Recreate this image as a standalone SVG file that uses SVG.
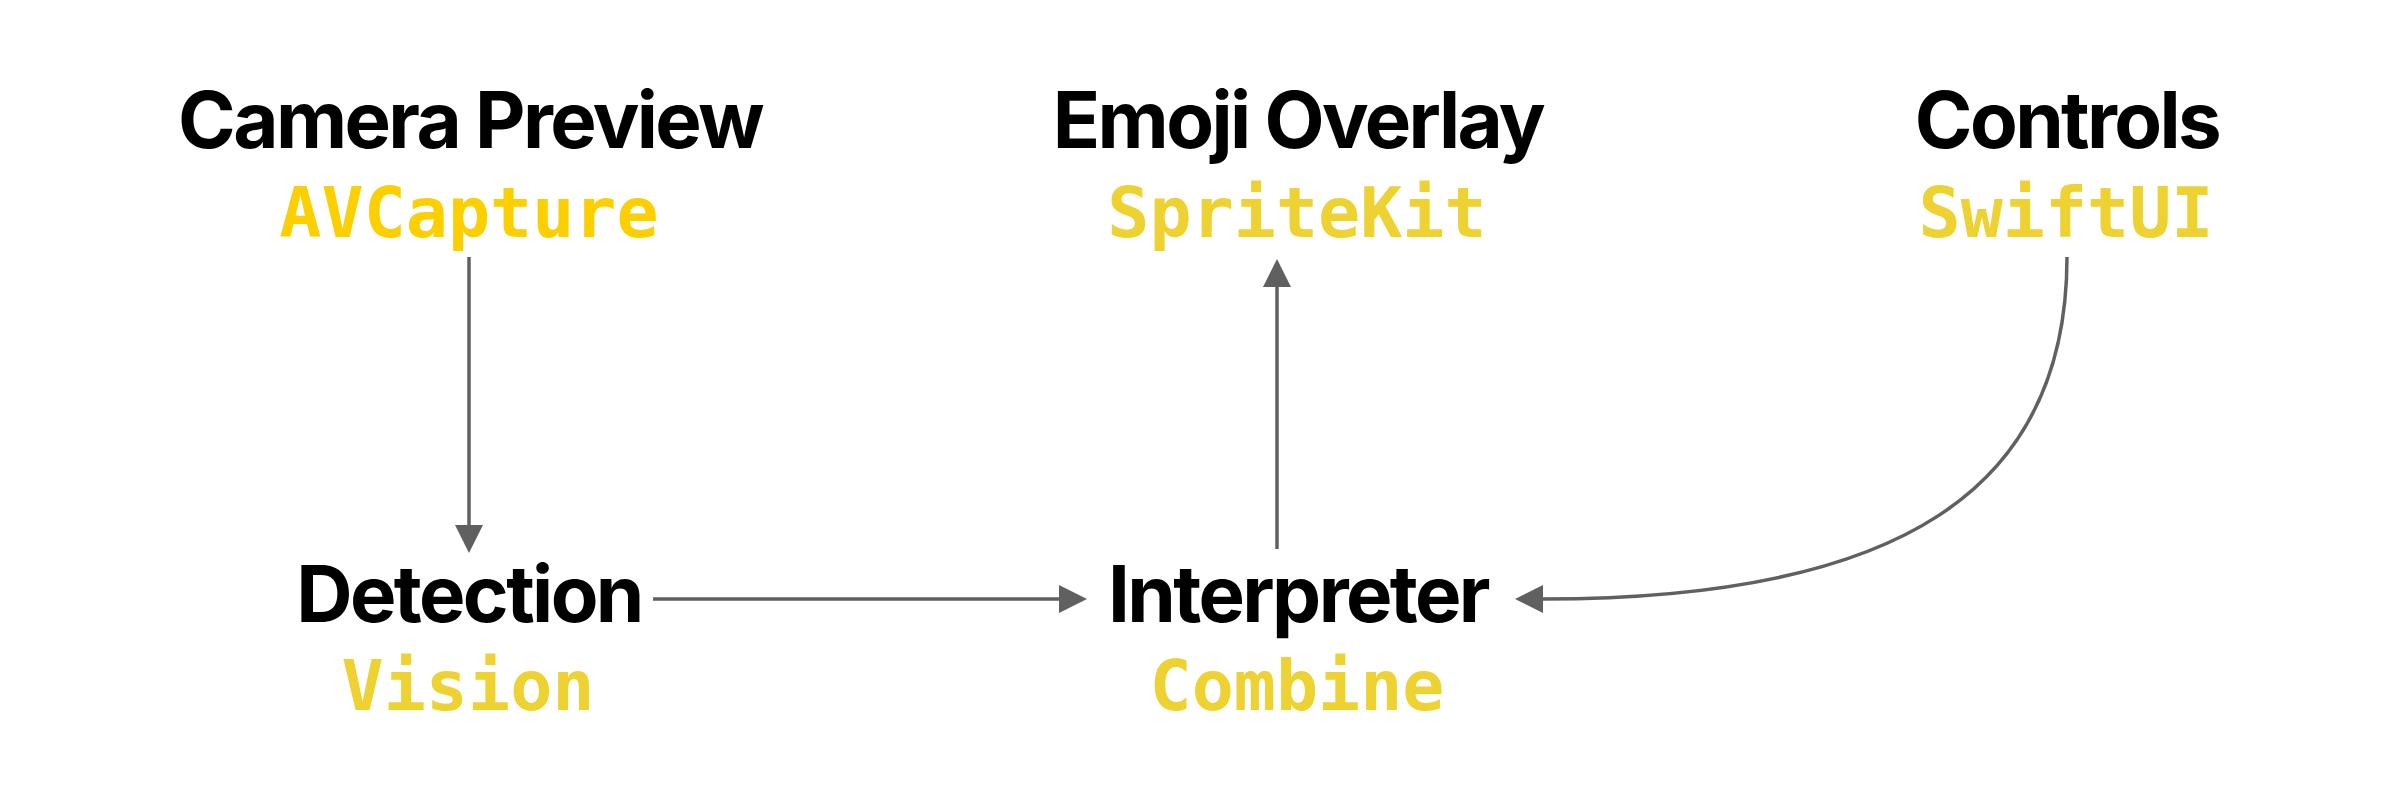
<svg xmlns="http://www.w3.org/2000/svg" width="2400" height="800" viewBox="0 0 2400 800">
<style>
.t{font-family:Inter,"Liberation Sans",sans-serif;font-weight:700;font-size:78px;fill:#000;text-anchor:middle;letter-spacing:-2.6px}
.m{font-family:"DejaVu Sans Mono","Liberation Mono",monospace;font-weight:700;font-size:70px;fill:#EED232;text-anchor:middle}
.c{fill:none;stroke:#606060;stroke-width:3.5}
</style>
<defs>
<marker id="ah" viewBox="0 0 28 28" refX="0" refY="14" markerWidth="28" markerHeight="28" markerUnits="userSpaceOnUse" orient="auto">
<path d="M0,0 L28,14 L0,28 z" fill="#606060"/>
</marker>
</defs>
<rect width="2400" height="800" fill="#fff"/>
<g id="connectors">
<path class="c" d="M469,257 L469,525" marker-end="url(#ah)"/>
<path class="c" d="M653,599 L1059,599" marker-end="url(#ah)"/>
<path class="c" d="M1277,549 L1277,287" marker-end="url(#ah)"/>
<path class="c" d="M2067,257 C2067,490 1900,599 1543,599" marker-end="url(#ah)"/>
</g>
<g id="camera">
<text class="t" x="470" y="148">Camera Preview</text>
<text class="m" x="469" y="237" style="fill:#FCCF00">AVCapture</text>
</g>
<g id="emoji">
<text class="t" x="1298" y="148">Emoji Overlay</text>
<text class="m" x="1297" y="237">SpriteKit</text>
</g>
<g id="controls">
<text class="t" x="2067" y="148">Controls</text>
<text class="m" x="2066" y="237">SwiftUI</text>
</g>
<g id="detection">
<text class="t" x="469" y="622">Detection</text>
<text class="m" x="468" y="710">Vision</text>
</g>
<g id="interpreter">
<text class="t" x="1298" y="622">Interpreter</text>
<text class="m" x="1297" y="710">Combine</text>
</g>
</svg>
